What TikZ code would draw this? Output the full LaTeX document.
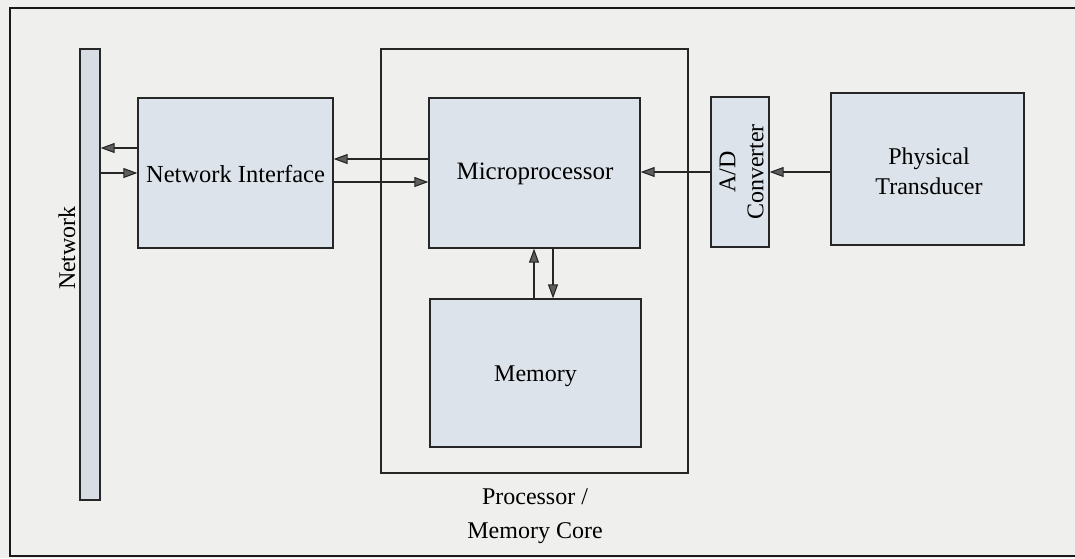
\documentclass[tikz,border=0pt]{standalone}
\usepackage{fontspec}
\setmainfont{Liberation Serif}
\usetikzlibrary{arrows.meta}
\definecolor{paper}{HTML}{EFEFED}
\definecolor{boxfill}{HTML}{DDE3EA}
\definecolor{barfill}{HTML}{D8DDE3}
\definecolor{tipfill}{HTML}{5E5E5E}
\tikzset{
  block/.style={draw=black!85, line width=1.3pt, fill=boxfill, inner sep=0pt},
  label/.style={font=\fontsize{24}{28}\selectfont, text=black, align=center, inner sep=0pt},
  link/.style={draw=black!85, line width=1.1pt,
    -{Triangle[length=14pt,width=10pt,fill=tipfill]}},
}
\begin{document}
\begin{tikzpicture}[x=1pt,y=-1pt]
  % page and frame
  \fill[paper] (0,0) rectangle (1075,558);
  \useasboundingbox (0,0) rectangle (1075,558);
  \draw[line width=1.8pt, black!90] (1080,8) -- (10,8) -- (10,556) -- (1080,556);

  % network bus
  \node[block, fill=barfill, minimum width=20pt, minimum height=451pt] (net) at (90,274.5) {};
  \node[label, rotate=90] (netlbl) at (67,248) {Network};

  % network interface
  \node[block, minimum width=195pt, minimum height=150pt] (ni) at (235.5,173) {};
  \node[label, font=\fontsize{24.5}{28}\selectfont] (nilbl) at (235.5,174) {Network Interface};

  % processor / memory core
  \node[draw=black!85, line width=1.3pt, minimum width=307pt, minimum height=424pt, inner sep=0pt] (core) at (534.5,261) {};
  \node[label, font=\fontsize{24}{34}\selectfont, anchor=north] (corelbl) at (535,488) {Processor /\\Memory Core};

  \node[block, minimum width=211pt, minimum height=150pt] (mp) at (534.5,173) {};
  \node[label, font=\fontsize{25}{28}\selectfont] (mplbl) at (535,174) {Microprocessor};

  \node[block, minimum width=211pt, minimum height=148pt] (mem) at (535.5,373) {};
  \node[label] (memlbl) at (535.5,376) {Memory};

  % A/D converter
  \node[block, minimum width=58pt, minimum height=150pt] (adc) at (740,172) {};
  \node[label, rotate=90] (adclbl) at (741.5,172) {A/D\\Converter};

  % physical transducer
  \node[block, minimum width=193pt, minimum height=152pt] (pt) at (927.5,169) {};
  \node[label, font=\fontsize{24}{30}\selectfont] (ptlbl) at (929,171) {Physical\\Transducer};

  % connectors
  \draw[link] (ni.west |- 0,148) -- (net.east |- 0,148);
  \draw[link] (net.east |- 0,173) -- (ni.west |- 0,173);
  \draw[link] (mp.west |- 0,159) -- (ni.east |- 0,159);
  \draw[link] (ni.east |- 0,182) -- (mp.west |- 0,182);
  \draw[link] (mem.north -| 534,0) -- (mp.south -| 534,0);
  \draw[link] (mp.south -| 553,0) -- (mem.north -| 553,0);
  \draw[link] (adc.west |- 0,172) -- (mp.east |- 0,172);
  \draw[link] (pt.west |- 0,172) -- (adc.east |- 0,172);
\end{tikzpicture}
\end{document}
